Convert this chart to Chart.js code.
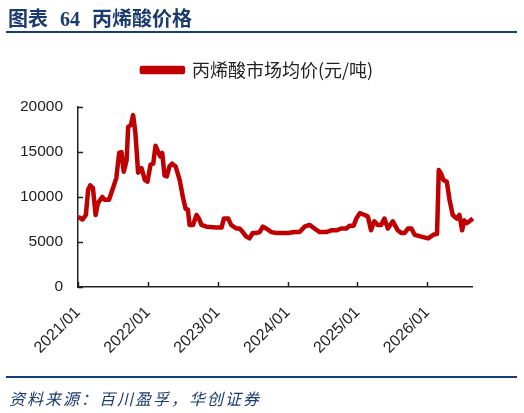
<!DOCTYPE html>
<html>
<head>
<meta charset="utf-8">
<script src="https://cdn.jsdelivr.net/npm/chart.js@4.4.0/dist/chart.umd.min.js"></script>
<style>
  body { margin: 0; background: #fff; }
  #wrap { position: relative; width: 524px; height: 413px; overflow: hidden; }
  #chart { position: absolute; left: 0; top: 0; }
  .title { position: absolute; left: 8px; top: 3px; font: bold 20px "Noto Sans CJK SC", sans-serif; color: #1b3b6f; white-space: nowrap; }
  .title .num { font-family: "Liberation Serif", serif; margin: 0 12px; }
  .rule { position: absolute; left: 6px; width: 511px; height: 2px; background: #123f7c; }
  .source { position: absolute; left: 9px; top: 386px; font: italic 16px "Noto Sans CJK SC", sans-serif; color: #1b3b6f; letter-spacing: 2px; white-space: nowrap; }
</style>
</head>
<body>
<div id="wrap">
  <canvas id="chart" width="524" height="413"></canvas>
  <div class="title">图表<span class="num">64</span>丙烯酸价格</div>
  <div class="rule" style="top:31px"></div>
  <div class="rule" style="top:376px"></div>
  <div class="source">资料来源：百川盈孚，华创证券</div>
</div>
<script>
const seriesName = "丙烯酸市场均价(元/吨)";
const yearTicks = [2021, 2022, 2023, 2024, 2025, 2026];
const dates = [
  "2021-01-02", "2021-01-25", "2021-02-11", "2021-02-23", "2021-03-06", "2021-03-20",
  "2021-04-03", "2021-04-15", "2021-04-28", "2021-05-08", "2021-05-20", "2021-06-12",
  "2021-07-03", "2021-07-20", "2021-08-04", "2021-08-16", "2021-08-28", "2021-09-12",
  "2021-09-20", "2021-10-04", "2021-10-16", "2021-10-28", "2021-11-11", "2021-11-29",
  "2021-12-16", "2021-12-30", "2022-01-15", "2022-01-29", "2022-02-10", "2022-02-24",
  "2022-03-07", "2022-03-17", "2022-03-29", "2022-04-10", "2022-04-24", "2022-05-08",
  "2022-05-26", "2022-06-16", "2022-07-03", "2022-07-17", "2022-07-29", "2022-08-07",
  "2022-08-25", "2022-09-12", "2022-09-25", "2022-10-08", "2022-11-03", "2022-12-25",
  "2023-01-21", "2023-02-02", "2023-02-25", "2023-03-12", "2023-04-08", "2023-04-25",
  "2023-05-12", "2023-05-30", "2023-06-16", "2023-07-03", "2023-07-21", "2023-08-08",
  "2023-08-25", "2023-09-12", "2023-10-08", "2023-11-04", "2023-12-08", "2024-01-04",
  "2024-02-08", "2024-03-04", "2024-03-30", "2024-04-25", "2024-05-21", "2024-06-17",
  "2024-07-22", "2024-08-17", "2024-09-13", "2024-10-09", "2024-11-04", "2024-11-21",
  "2024-12-12", "2024-12-26", "2025-01-13", "2025-02-08", "2025-02-25", "2025-03-13",
  "2025-03-30", "2025-04-17", "2025-05-05", "2025-05-22", "2025-06-09", "2025-07-05",
  "2025-07-31", "2025-08-18", "2025-09-05", "2025-09-22", "2025-10-10", "2025-10-27",
  "2025-12-01", "2026-01-05", "2026-02-01", "2026-02-21", "2026-03-02", "2026-03-14",
  "2026-03-26", "2026-04-13", "2026-04-27", "2026-05-14", "2026-06-04", "2026-06-18",
  "2026-07-02", "2026-07-14", "2026-07-26", "2026-08-09", "2026-08-27"
];
const prices = [
  7800, 7500, 8000, 10800, 11300, 11000,
  8000, 9300, 9700, 10000, 9700, 9700,
  11000, 12100, 14900, 15000, 12800, 14100,
  17800, 18000, 19100, 17100, 12700, 13200,
  11900, 11700, 13600, 13700, 15700, 15000,
  14500, 14900, 12400, 12300, 13400, 13700,
  13400, 11900, 10000, 8700, 8600, 6900,
  6900, 8000, 7600, 6900, 6700, 6600,
  6600, 7600, 7600, 6900, 6500, 6500,
  6100, 5600, 5400, 6000, 6000, 6100,
  6700, 6500, 6100, 6000, 6000, 6000,
  6100, 6100, 6700, 6900, 6500, 6100,
  6100, 6300, 6300, 6500, 6500, 6800,
  6800, 7600, 8200, 8000, 7800, 6300,
  7300, 6900, 6900, 7600, 6500, 7300,
  6300, 6000, 6000, 6500, 6500, 5800,
  5600, 5400, 5800, 5900, 13000, 12600,
  11900, 11700, 9700, 8000, 7600, 8000,
  6300, 7400, 7100, 7300, 7600
];

// date string -> fractional year
function toYear(s) {
  const [y, m, d] = s.split("-").map(Number);
  const start = Date.UTC(y, 0, 1);
  const end = Date.UTC(y + 1, 0, 1);
  return y + (Date.UTC(y, m - 1, d) - start) / (end - start);
}

const points = dates.map((d, i) => ({ x: toYear(d), y: prices[i] }));
const numFamily = "'Liberation Sans', Arial, sans-serif";

// small tick marks pointing into the plot
const innerTicks = {
  id: "innerTicks",
  afterDraw(chart) {
    const { ctx, scales: { x, y }, chartArea } = chart;
    ctx.save();
    ctx.strokeStyle = "#222";
    ctx.lineWidth = 1.5;
    ctx.beginPath();
    x.ticks.forEach((t) => {
      const px = Math.round(x.getPixelForValue(t.value)) + 0.5;
      ctx.moveTo(px, chartArea.bottom);
      ctx.lineTo(px, chartArea.bottom - 5);
    });
    y.ticks.forEach((t) => {
      const py = Math.round(y.getPixelForValue(t.value)) + 0.5;
      ctx.moveTo(chartArea.left, py);
      ctx.lineTo(chartArea.left + 5, py);
    });
    ctx.stroke();
    ctx.restore();
  },
};

// empty spacer axes (no ticks, no border)
const spacer = (position, size) => ({
  type: "linear",
  position: position,
  afterFit: (scale) => {
    if (scale.isHorizontal()) scale.height = size;
    else scale.width = size;
  },
  grid: { display: false, drawTicks: false },
  border: { display: false },
  ticks: { display: false },
});

new Chart(document.getElementById("chart"), {
  type: "line",
  data: {
    datasets: [
      {
        label: seriesName,
        data: points,
        xAxisID: "x",
        yAxisID: "y",
        borderColor: "#c00000",
        backgroundColor: "#c00000",
        borderWidth: 4.5,
        pointRadius: 0,
        tension: 0,
        borderJoinStyle: "round",
        clip: false,
      },
    ],
  },
  options: {
    responsive: false,
    animation: false,
    layout: { padding: { top: 27, right: 9, bottom: 50, left: 0 } },
    plugins: {
      legend: {
        position: "top",
        labels: {
          color: "#222",
          font: { family: "'Noto Sans CJK SC', sans-serif", size: 18 },
          boxWidth: 41,
          boxHeight: 4,
          padding: 34,
        },
      },
      tooltip: { enabled: false },
    },
    scales: {
      x: {
        type: "linear",
        min: 2021,
        max: 2026.64,
        afterBuildTicks: (scale) => {
          scale.ticks = yearTicks.map((v) => ({ value: v }));
        },
        afterFit: (scale) => {
          scale.height = 76;
        },
        grid: { display: false, drawTicks: false },
        border: { color: "#222", width: 1.5 },
        ticks: {
          color: "#222",
          font: { family: numFamily, size: 16 },
          minRotation: 45,
          maxRotation: 45,
          padding: 16,
          callback: (v) => v + "/01",
        },
      },
      y: {
        min: 0,
        max: 20000,
        afterFit: (scale) => {
          scale.width = 78;
        },
        grid: { display: false, drawTicks: false },
        border: { color: "#222", width: 1.5 },
        ticks: {
          color: "#222",
          font: { family: numFamily, size: 15.5 },
          stepSize: 5000,
          padding: 15,
          callback: (v) => String(v),
        },
      },
      gapTop: spacer("top", 18),
      gapRight: spacer("right", 43),
    },
  },
  plugins: [innerTicks],
});
</script>
</body>
</html>
